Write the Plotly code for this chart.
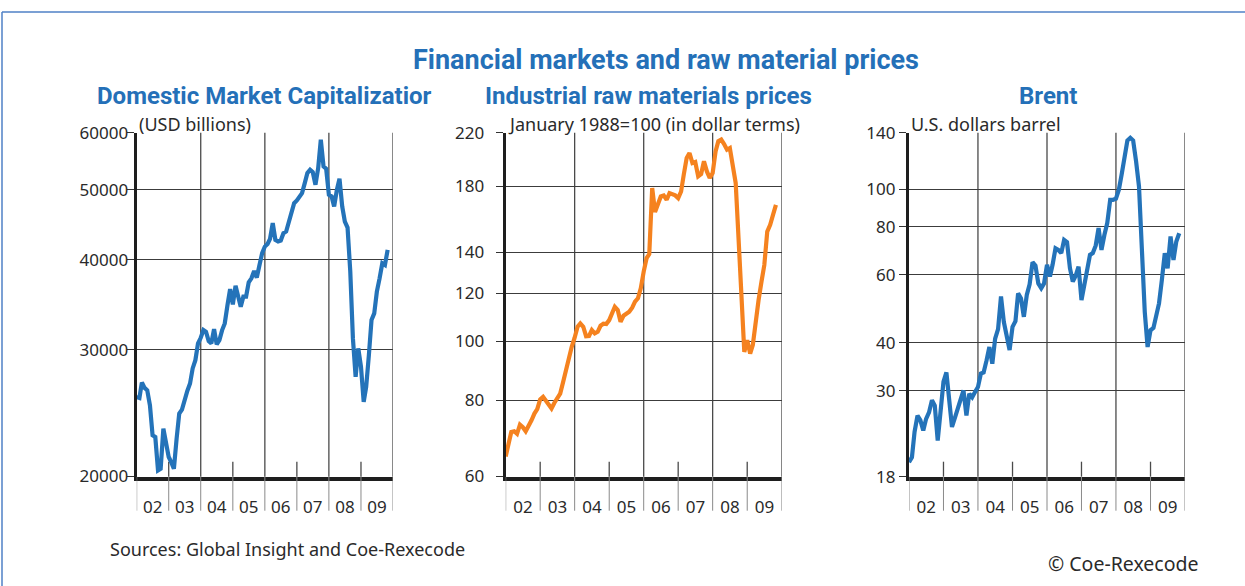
import math
import pandas as pd
import plotly.graph_objects as go

months = pd.date_range("2002-01-01", periods=95, freq="MS")

market_cap = [25790, 25710, 27010, 26550, 26350, 25110, 22810, 22690, 20390, 20500,
              23300, 22090, 21280, 20900, 20500, 22570, 24450, 24770, 25600, 26290,
              26920, 28250, 29010, 30600, 31160, 31940, 31770, 30830, 30600, 32040,
              30500, 30930, 31940, 32630, 34600, 36420, 34680, 36810, 35660, 34420,
              35540, 35540, 37210, 37690, 38590, 37770, 39340, 40840, 41720, 42080,
              42760, 44960, 42620, 42400, 42530, 43540, 43780, 45110, 46930, 47940,
              48350, 49030, 49500, 51110, 52780, 53350, 52950, 50840, 53630, 58730,
              53920, 53520, 49240, 48980, 47430, 50030, 51830, 47430, 45200, 44340,
              38510, 31100, 27500, 30120, 28400, 25380, 26630, 29480, 32980, 33690,
              36120, 37690, 39550, 39340, 41280]

raw_materials = [64.7, 67.5, 71.0, 71.2, 70.5, 73.0, 72.3, 71.2, 72.5, 74.2,
                 76.1, 77.4, 80.3, 81.1, 80.0, 78.5, 77.6, 79.3, 80.7, 82.1,
                 85.8, 90.2, 93.7, 98.0, 101.4, 105.7, 107.0, 105.7, 102.0, 102.1,
                 104.4, 103.1, 103.7, 106.1, 106.9, 106.8, 108.4, 111.6, 114.0, 112.6,
                 107.7, 110.2, 110.8, 111.9, 113.6, 116.2, 117.7, 122.2, 130.2, 137.0,
                 139.1, 178.6, 163.1, 168.7, 173.0, 173.7, 170.9, 175.2, 174.6, 173.7,
                 171.9, 176.3, 187.8, 200.1, 203.9, 196.3, 197.1, 186.7, 188.3, 197.6,
                 190.2, 185.5, 189.0, 205.2, 213.2, 214.5, 211.0, 206.5, 207.8, 195.6,
                 182.0, 147.8, 116.2, 96.1, 100.5, 95.5, 98.6, 109.1, 116.9, 125.4,
                 133.5, 151.5, 155.4, 161.4, 167.6]

brent = [19.6, 20.2, 23.5, 25.9, 25.2, 23.7, 25.4, 26.4, 28.4, 27.5,
         22.3, 25.9, 31.7, 33.5, 28.9, 24.2, 25.5, 27.3, 28.5, 30.1,
         25.9, 29.5, 28.9, 29.8, 30.7, 33.3, 33.5, 36.0, 39.0, 35.3,
         41.0, 43.4, 52.7, 45.3, 41.4, 38.3, 44.0, 45.5, 53.7, 52.1,
         46.7, 53.2, 56.7, 64.7, 63.4, 57.0, 55.4, 57.0, 63.7, 59.4,
         63.7, 70.3, 69.6, 68.3, 73.9, 72.9, 62.4, 57.6, 59.7, 63.0,
         51.6, 56.5, 61.8, 67.6, 68.3, 71.5, 79.3, 69.6, 76.2, 81.7,
         93.9, 93.9, 94.5, 99.7, 109.1, 121.7, 133.7, 135.9, 133.7, 118.2,
         101.7, 70.3, 48.1, 39.0, 43.1, 43.7, 46.7, 50.6, 58.2, 68.3,
         62.4, 75.4, 65.6, 73.2, 76.9]

year_labels = ["02", "03", "04", "05", "06", "07", "08", "09"]
year_mid = [f"20{y}-07-02" for y in year_labels]
year_starts = [f"{y}-01-01" for y in range(2002, 2011)]

y_ticks = [
    [20000, 30000, 40000, 50000, 60000],
    [60, 80, 100, 120, 140, 180, 220],
    [18, 30, 40, 60, 80, 100, 140],
]
y_ranges = [(20000, 60000), (60, 220), (18, 140)]
series = [market_cap, raw_materials, brent]
colors = ["#2473b9", "#f5821f", "#2473b9"]
subtitles = ["Domestic Market Capitalizatior", "Industrial raw materials prices", "Brent"]
units = ["(USD billions)", "January 1988=100 (in dollar terms)", "U.S. dollars barrel"]

W, H = 1245, 586
x_dom_px = [(136.7, 393.0), (505.7, 781.7), (909.0, 1185.0)]
y_top_px, y_bot_px = 132.7, 476.7
standoffs = [-5, 8, 0]

TITLE_BLUE = "#2470b8"
TEXT = "#2a2a2a"
FONT = "Noto Sans"
TITLE_FONT = "Roboto"

fig = go.Figure()

for k in range(3):
    sfx = "" if k == 0 else str(k + 1)
    fig.add_trace(go.Scatter(
        x=months, y=series[k], mode="lines",
        line=dict(color=colors[k], width=4.2),
        xaxis="x" + sfx, yaxis="y" + sfx, showlegend=False, hoverinfo="skip",
    ))
    x0, x1 = x_dom_px[k]
    lo, hi = y_ranges[k]
    fig.update_layout({
        "xaxis" + sfx: dict(
            domain=[x0 / W, x1 / W], anchor="y" + sfx, automargin=False,
            type="date", range=["2002-01-01", "2010-01-01"],
            tickvals=year_mid, ticktext=year_labels, ticks="",
            showgrid=False, zeroline=False,
            showline=True, linecolor="#1e1e1e", linewidth=3.5,
            tickfont=dict(family=FONT, size=17, color=TEXT),
            ticklabelstandoff=12,
        ),
        "yaxis" + sfx: dict(
            domain=[1 - y_bot_px / H, 1 - y_top_px / H], anchor="x" + sfx, automargin=False,
            type="log", range=[math.log10(lo) - 0.0004, math.log10(hi) + 0.0004],
            tickvals=y_ticks[k], ticktext=[str(v) for v in y_ticks[k]],
            ticks="outside", ticklen=7, tickwidth=1.3, tickcolor="#333",
            showgrid=True, gridcolor="#3c3c3c", gridwidth=1.3,
            zeroline=False,
            showline=True, linecolor="#1e1e1e", linewidth=3.2,
            tickfont=dict(family=FONT, size=17, color=TEXT),
            ticklabelstandoff=standoffs[k],
        ),
    })
    xr = "x" + sfx
    yd = ("y" + sfx) + " domain"
    for ys in year_starts:
        yr = int(ys[:4])
        fig.add_shape(type="line", xref=xr, yref=yd, x0=ys, x1=ys, y0=0, y1=-34 / 344,
                      line=dict(color="#8a8a8a", width=1))
        if yr in (2004, 2006, 2008, 2010):
            fig.add_shape(type="line", xref=xr, yref=yd, x0=ys, x1=ys, y0=0, y1=1,
                          line=dict(color="#4a4a4a", width=1.3), layer="below")
        elif yr in (2003, 2005, 2007, 2009):
            fig.add_shape(type="line", xref=xr, yref=yd, x0=ys, x1=ys, y0=0, y1=15 / 344,
                          line=dict(color="#4a4a4a", width=1.3), layer="below")
    fig.add_annotation(text=units[k], xref="paper", yref="paper",
                       x=x0 / W, y=1 - 124 / H, xanchor="left", yanchor="middle",
                       showarrow=False, font=dict(family=FONT, size=18, color=TEXT))

sub_font = dict(family=TITLE_FONT, size=24, color=TITLE_BLUE, weight="bold")
fig.add_annotation(text=subtitles[0], xref="paper", yref="paper",
                   x=95 / W, y=1 - 96 / H, xanchor="left", yanchor="middle", showarrow=False,
                   font=sub_font)
fig.add_annotation(text=subtitles[1], xref="paper", yref="paper",
                   x=483 / W, y=1 - 96 / H, xanchor="left", yanchor="middle", showarrow=False,
                   font=sub_font)
fig.add_annotation(text=subtitles[2], xref="paper", yref="paper",
                   x=1048 / W, y=1 - 96 / H, xanchor="center", yanchor="middle", showarrow=False,
                   font=sub_font)
fig.add_annotation(text="Financial markets and raw material prices", xref="paper", yref="paper",
                   x=666 / W, y=1 - 60 / H, xanchor="center", yanchor="middle", showarrow=False,
                   font=dict(family=TITLE_FONT, size=27, color=TITLE_BLUE, weight="bold"))
fig.add_annotation(text="Sources: Global Insight and Coe-Rexecode", xref="paper", yref="paper",
                   x=108 / W, y=1 - 549 / H, xanchor="left", yanchor="middle", showarrow=False,
                   font=dict(family=FONT, size=18, color=TEXT))
fig.add_annotation(text="© Coe-Rexecode", xref="paper", yref="paper",
                   x=1201 / W, y=1 - 563 / H, xanchor="right", yanchor="middle", showarrow=False,
                   font=dict(family=FONT, size=19.5, color=TEXT))

fig.add_shape(type="line", xref="paper", yref="paper", x0=2 / W, x1=1.0, y0=1 - 12 / H, y1=1 - 12 / H,
              line=dict(color="#4f81c6", width=1.5))
fig.add_shape(type="line", xref="paper", yref="paper", x0=2 / W, x1=2 / W, y0=0, y1=1 - 12 / H,
              line=dict(color="#4f81c6", width=1.5))

fig.update_layout(
    template="none",
    width=W, height=H, margin=dict(l=0, r=0, t=0, b=0, pad=0, autoexpand=False),
    paper_bgcolor="white", plot_bgcolor="white",
    font=dict(family=FONT, color=TEXT),
)

fig.write_html(
    "out.html",
    config={"displayModeBar": False},
    post_script="document.body.style.margin='0';document.body.style.overflow='hidden';",
)
